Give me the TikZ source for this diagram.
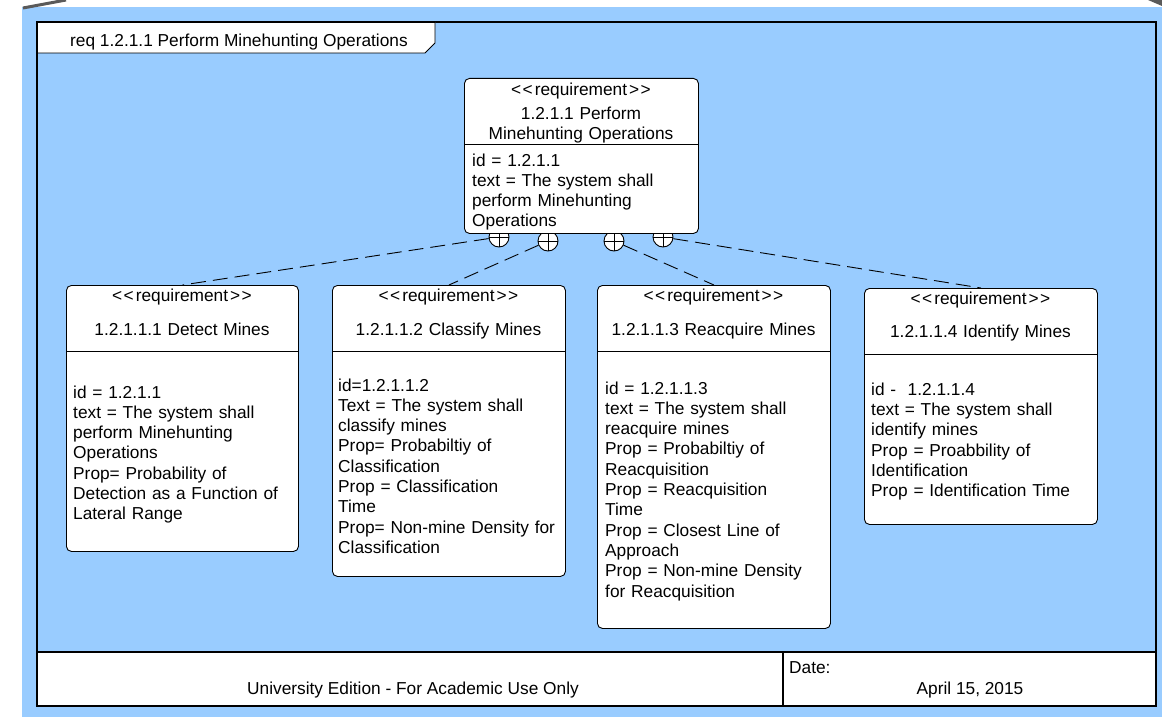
\documentclass[tikz,border=0pt]{standalone}
\usepackage{fontspec}
\setmainfont{Liberation Sans}
\definecolor{bgblue}{HTML}{99CCFF}
\definecolor{decogray}{HTML}{5A5A5A}
\newcommand{\stereo}{<\kern1.5pt<\kern2pt requirement\kern2pt>\kern1.5pt>}
\begin{document}
\begin{tikzpicture}[x=1pt,y=-1pt,
  reqbox/.style={draw=black, fill=white, rounded corners=5pt, line width=0.9pt, inner sep=0pt},
  txt/.style={font=\fontsize{17.3}{20.3}\selectfont, inner sep=0pt, text=black},
  bodytxt/.style={txt, anchor=base west, text width=228pt, align=left},
  titletxt/.style={txt, anchor=base, text width=230pt, align=center},
  plus/.style={circle, draw=black, fill=white, line width=0.9pt, minimum size=20pt, inner sep=0pt},
  link/.style={draw=black, line width=0.9pt, dash pattern=on 15pt off 7pt},
  frameline/.style={draw=black, line width=2.6pt}
]
\useasboundingbox (0,0) rectangle (1162,717);
\fill[white] (0,0) rectangle (1162,717);
% background and decorations
\fill[bgblue] (22,7) rectangle (1162,717);
\draw[decogray, line width=3pt] (23,8) -- (66,0);
\fill[decogray] (1148,0) -- (1162,0) -- (1162,6) -- cycle;
% frame
\draw[frameline] (37,22) rectangle (1156,706);
\filldraw[fill=white, draw=black, line width=0.9pt] (37,22) -- (435,22) -- (435,43) -- (425,53) -- (37,53) -- cycle;
\draw[frameline] (37,22) -- (37,53);
\draw[frameline] (37,22) -- (435,22);
\node[txt, anchor=base west] (frametitle) at (70,46.5) {req 1.2.1.1 Perform Minehunting Operations};
% footer
\filldraw[fill=white, draw=black, line width=2.6pt] (37,652) rectangle (1156,706);
\draw[black, line width=2pt] (783,652) -- (783,706);
\node[txt, anchor=base] (edition) at (413,694) {University Edition - For Academic Use Only};
\node[txt, anchor=base west] (datelbl) at (789,673) {Date:};
\node[txt, anchor=base] (dateval) at (970,694) {April 15, 2015};
% containment circles (behind the top box)
\node[plus] (c1) at (499,237) {};
\node[plus] (c2) at (548,241) {};
\node[plus] (c3) at (614,241) {};
\node[plus] (c4) at (663,237) {};
\foreach \c in {c1,c2,c3,c4}{
  \draw[black, line width=0.9pt] (\c.north) -- (\c.south) (\c.west) -- (\c.east);
}
% top requirement
\node[reqbox, anchor=north west, minimum width=234pt, minimum height=155pt] (top) at (464,78) {};
\draw[black, line width=0.9pt] (top.west |- 0,144) -- (top.east |- 0,144);
\node[txt, anchor=base] (tops) at (581,95.5) {\stereo};
\node[titletxt] (topt) at (581,119.3) {1.2.1.1 Perform\\Minehunting Operations};
\node[bodytxt] (topb) at (472,166) {id = 1.2.1.1\\text = The system shall\\perform Minehunting\\Operations};
% child boxes
\node[reqbox, anchor=north west, minimum width=232pt, minimum height=266pt] (b1) at (66,285) {};
\node[reqbox, anchor=north west, minimum width=233pt, minimum height=291pt] (b2) at (332,285) {};
\node[reqbox, anchor=north west, minimum width=233pt, minimum height=343pt] (b3) at (597,285) {};
\node[reqbox, anchor=north west, minimum width=233pt, minimum height=236pt] (b4) at (864,288) {};
\draw[black, line width=0.9pt] (b1.west |- 0,351) -- (b1.east |- 0,351);
\draw[black, line width=0.9pt] (b2.west |- 0,351) -- (b2.east |- 0,351);
\draw[black, line width=0.9pt] (b3.west |- 0,351) -- (b3.east |- 0,351);
\draw[black, line width=0.9pt] (b4.west |- 0,354) -- (b4.east |- 0,354);
% box 1
\node[txt, anchor=base] (b1s) at (182,301) {\stereo};
\node[titletxt] (b1t) at (182,335) {1.2.1.1.1 Detect Mines};
\node[bodytxt] (b1b) at (73,398) {id = 1.2.1.1\\text = The system shall\\perform Minehunting\\Operations\\Prop= Probability of\\Detection as a Function of\\Lateral Range};
% box 2
\node[txt, anchor=base] (b2s) at (448.5,301) {\stereo};
\node[titletxt] (b2t) at (448.5,335) {1.2.1.1.2 Classify Mines};
\node[bodytxt] (b2b) at (338,391) {id=1.2.1.1.2\\Text = The system shall\\classify mines\\Prop= Probabiltiy of\\Classification\\Prop = Classification\\Time\\Prop= Non-mine Density for\\Classification};
% box 3
\node[txt, anchor=base] (b3s) at (713.5,301) {\stereo};
\node[titletxt] (b3t) at (713.5,335) {1.2.1.1.3 Reacquire Mines};
\node[bodytxt] (b3b) at (605,394) {id = 1.2.1.1.3\\text = The system shall\\reacquire mines\\Prop = Probabiltiy of\\Reacquisition\\Prop = Reacquisition\\Time\\Prop = Closest Line of\\Approach\\Prop = Non-mine Density\\for Reacquisition};
% box 4
\node[txt, anchor=base] (b4s) at (980.5,304) {\stereo};
\node[titletxt] (b4t) at (980.5,337) {1.2.1.1.4 Identify Mines};
\node[bodytxt] (b4b) at (871,395.3) {id -\ \ 1.2.1.1.4\\text = The system shall\\identify mines\\Prop = Proabbility of\\Identification\\Prop = Identification Time};
% connectors
\draw[link] (c1) -- (b1.north);
\draw[link] (c2) -- (b2.north);
\draw[link] (c3) -- (b3.north);
\draw[link] (c4) -- (b4.north);
\end{tikzpicture}
\end{document}
